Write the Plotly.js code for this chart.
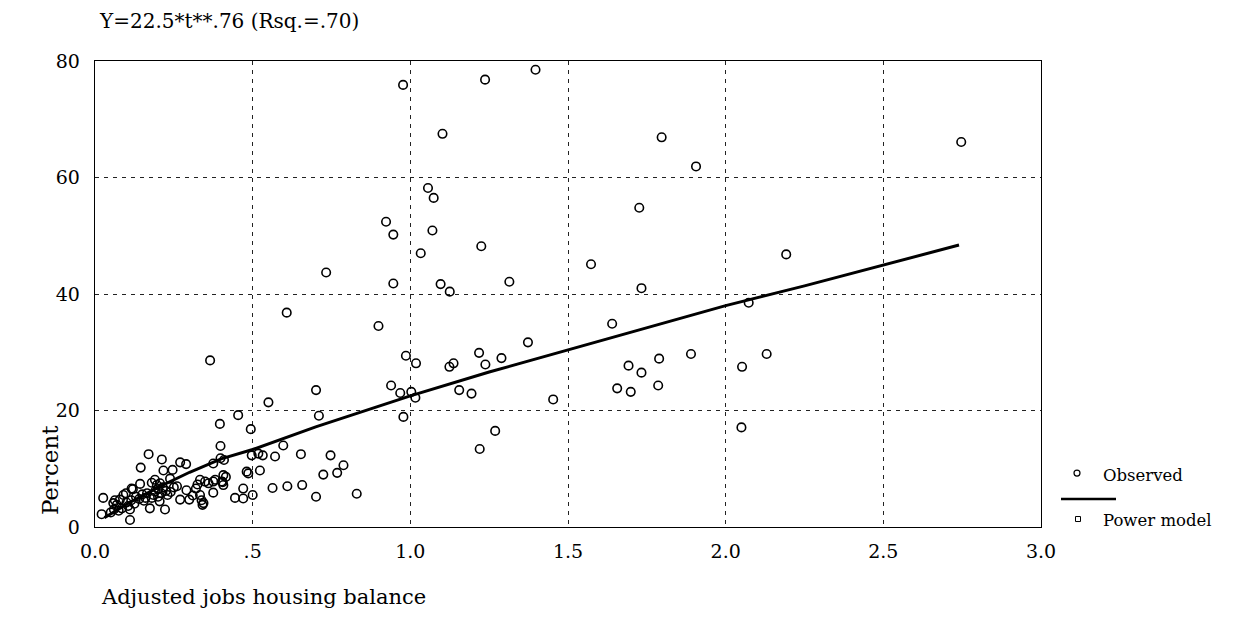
<!DOCTYPE html>
<html>
<head>
<meta charset="utf-8">
<script src="https://cdn.plot.ly/plotly-3.0.1.min.js"></script>
<style>html,body{margin:0;padding:0;background:#fff;}#chart{width:1235px;height:621px;}</style>
</head>
<body>
<div id="chart"></div>
<script>
// Observed points (x = adjusted jobs housing balance, y = percent)
const obsX = [
0.977,1.237,1.397,1.102,1.797,2.747,1.906,1.056,1.074,1.726,0.923,0.946,1.070,1.225,1.033,2.192,1.573,0.733,0.946,1.096,
1.125,1.314,1.733,2.073,0.608,0.899,1.640,1.373,0.986,1.018,1.124,1.137,1.218,1.238,1.289,1.789,1.692,1.733,1.890,2.052,
2.130,0.701,0.939,0.968,1.003,1.016,1.155,1.194,1.453,1.656,1.699,1.786,0.550,0.710,0.978,1.269,2.050,1.220,0.597,0.571,
0.653,0.747,0.788,0.768,0.724,0.563,0.610,0.657,0.701,0.830,0.518,0.532,0.497,0.523,0.500,0.494,
0.365,0.454,0.396,0.398,0.398,0.409,0.375,0.481,0.486,0.407,0.402,0.407,0.381,0.375,0.349,0.333,0.375,0.470,0.444,0.470,
0.333,0.338,0.344,0.341,0.170,0.212,0.145,0.270,0.289,0.217,0.246,0.238,0.143,0.120,0.180,0.190,0.196,0.206,0.090,0.098,
0.063,0.058,0.069,0.079,0.026,0.021,0.111,0.111,0.174,0.222,0.270,0.299,0.130,0.140,0.150,0.160,0.165,0.155,0.180,0.185,
0.190,0.200,0.200,0.210,0.215,0.225,0.230,0.240,0.250,0.100,0.105,0.085,0.075,0.060,0.050,0.115,0.125,0.205,0.310,0.320,
0.325,0.360,0.260,0.290,0.116,0.415,0.405];
const obsY = [
75.9,76.8,78.5,67.5,66.9,66.1,61.9,58.2,56.5,54.8,52.4,50.2,50.9,48.2,47.0,46.8,45.1,43.7,41.8,41.7,
40.4,42.1,41.0,38.5,36.8,34.5,34.9,31.7,29.4,28.1,27.5,28.1,29.9,27.9,29.0,28.9,27.7,26.5,29.7,27.5,
29.7,23.5,24.3,23.0,23.2,22.2,23.5,22.9,21.9,23.8,23.2,24.3,21.4,19.1,18.9,16.5,17.1,13.4,14.0,12.1,
12.5,12.3,10.6,9.3,9.0,6.7,7.0,7.2,5.2,5.7,12.6,12.3,12.3,9.7,5.5,16.8,
28.6,19.2,17.7,13.9,11.8,11.5,10.9,9.5,9.2,8.9,7.8,7.2,8.1,7.8,7.8,8.1,5.9,6.6,5.0,4.9,
5.5,4.6,4.1,3.8,12.5,11.6,10.2,11.1,10.8,9.7,9.8,8.3,7.4,6.5,7.6,8.1,7.2,7.5,5.5,5.8,
4.6,4.1,3.8,4.7,5.0,2.2,3.0,1.2,3.2,3.0,4.7,4.7,5.2,4.8,5.6,5.0,5.8,4.5,5.0,5.5,
6.1,5.2,6.5,5.8,6.8,6.2,5.5,6.0,6.8,4.2,3.6,3.2,2.8,3.0,2.5,4.6,4.0,4.4,5.4,6.6,
7.3,7.5,7.0,6.3,6.6,8.6,7.7];

// Power model line
const fitX = [0.03,0.1,0.2,0.3,0.4,0.5,0.7,1.0,1.25,1.5,1.75,2.0,2.25,2.5,2.74];
const fitY = [1.6,3.9,6.8,9.4,11.7,13.3,17.2,22.5,26.6,30.4,34.2,38.0,41.4,45.0,48.4];

const xTickVals = [0,0.5,1,1.5,2,2.5,3];
const xTickText = ['0.0','.5','1.0','1.5','2.0','2.5','3.0'];
const yTickVals = [0,20,40,60,80];
const yTickText = ['0','20','40','60','80'];

const titleText = 'Y=22.5*t**.76 (Rsq.=.70)';
const xTitle = 'Adjusted jobs housing balance';
const yTitle = 'Percent';
const legendNames = ['Observed','Power model'];

const FONT = 'DejaVu Serif, serif';

const traces = [
  {x: obsX, y: obsY, type:'scatter', mode:'markers', name: legendNames[0],
   marker:{symbol:'circle-open', size:8.5, color:'#000', line:{width:1.6, color:'#000'}}, cliponaxis:false},
  {x: fitX, y: fitY, type:'scatter', mode:'lines', name: legendNames[1],
   line:{color:'#000', width:3}}
];

function px2x(px){return (px-95)/946;}
function px2y(py){return (527-py)/467;}

const layout = {
  width:1235, height:621,
  margin:{l:95, r:194, t:61, b:94},
  paper_bgcolor:'#fff', plot_bgcolor:'#fff',
  showlegend:false,
  font:{family:FONT, color:'#000', size:16},
  title:{text:titleText, font:{family:FONT, size:20, color:'#000'},
         xref:'container', yref:'container', x:100/1235, xanchor:'left', y:1-21/621, yanchor:'middle'},
  xaxis:{range:[0,3], tickvals:xTickVals, ticktext:xTickText, showgrid:true,
         gridcolor:'#222', gridwidth:1, griddash:'4px,5px', zeroline:false,
         showline:true, linecolor:'#000', linewidth:1.3, mirror:true, ticks:'',
         ticklabelstandoff:7, tickfont:{family:FONT, size:19, color:'#000'}},
  yaxis:{range:[0,80], tickvals:yTickVals, ticktext:yTickText, showgrid:true,
         gridcolor:'#222', gridwidth:1, griddash:'4px,5px', zeroline:false,
         showline:true, linecolor:'#000', linewidth:1.3, mirror:true, ticks:'',
         ticklabelstandoff:10, tickfont:{family:FONT, size:19, color:'#000'}},
  annotations:[
    {text:xTitle, xref:'paper', yref:'paper', x:px2x(99), y:px2y(597), xanchor:'left', yanchor:'middle',
     showarrow:false, font:{family:FONT, size:21, color:'#000'}},
    {text:yTitle, xref:'paper', yref:'paper', x:px2x(50), y:px2y(470), xanchor:'center', yanchor:'middle',
     textangle:-90, showarrow:false, font:{family:FONT, size:23, color:'#000'}},
    {text:legendNames[0], xref:'paper', yref:'paper', x:px2x(1101), y:px2y(475), xanchor:'left', yanchor:'middle',
     showarrow:false, font:{family:FONT, size:16.5, color:'#000'}},
    {text:legendNames[1], xref:'paper', yref:'paper', x:px2x(1101), y:px2y(520), xanchor:'left', yanchor:'middle',
     showarrow:false, font:{family:FONT, size:16.5, color:'#000'}}
  ],
  shapes:[
    {type:'circle', xref:'paper', yref:'paper', xsizemode:'pixel', ysizemode:'pixel',
     xanchor:px2x(1077), yanchor:px2y(473), x0:-3, x1:3, y0:-3, y1:3, line:{color:'#000', width:1.2}},
    {type:'line', xref:'paper', yref:'paper', x0:px2x(1061), x1:px2x(1116), y0:px2y(499), y1:px2y(499),
     line:{color:'#000', width:2.5}},
    {type:'rect', xref:'paper', yref:'paper', xsizemode:'pixel', ysizemode:'pixel',
     xanchor:px2x(1078), yanchor:px2y(519), x0:-2.5, x1:2.5, y0:-2.5, y1:2.5, line:{color:'#000', width:1}}
  ]
};

Plotly.newPlot('chart', traces, layout, {displayModeBar:false, staticPlot:true});
</script>
</body>
</html>
